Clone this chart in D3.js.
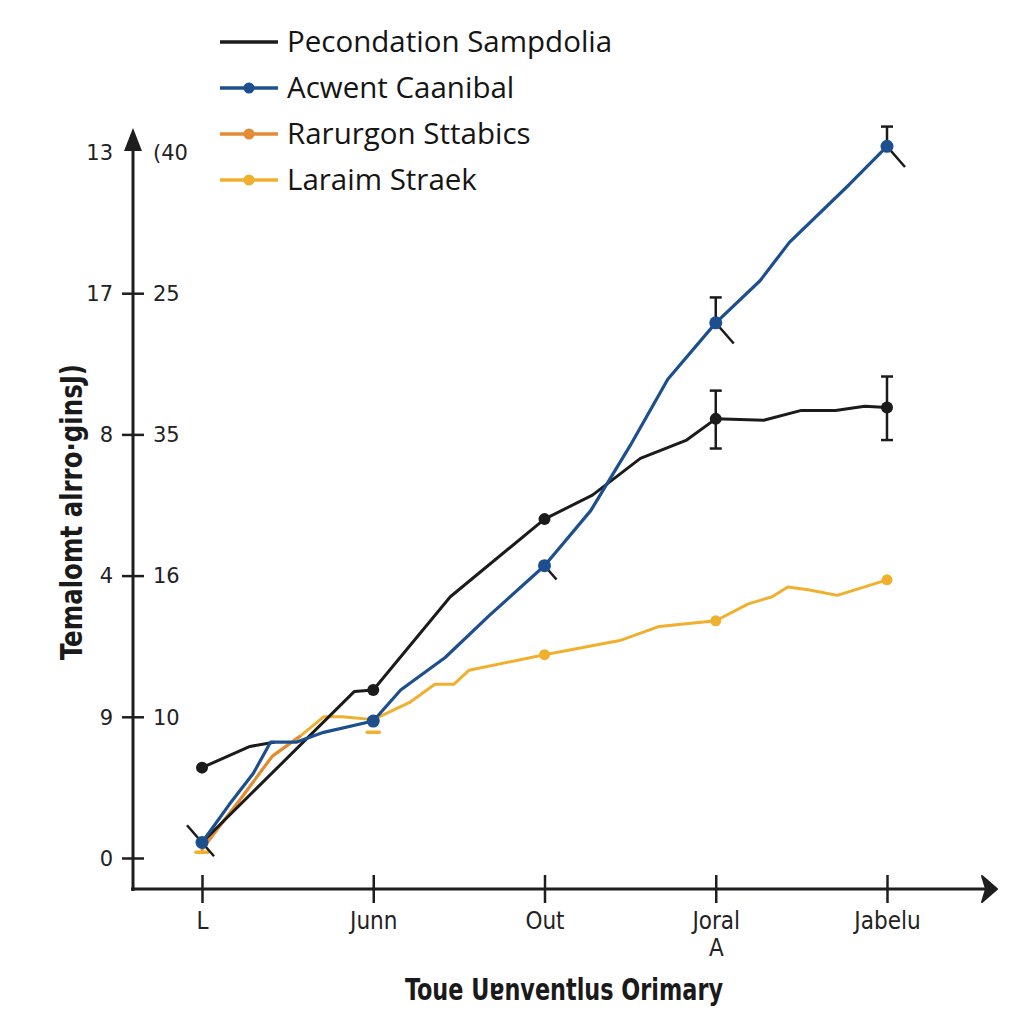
<!DOCTYPE html>
<html>
<head>
<meta charset="utf-8">
<script src="https://cdn.jsdelivr.net/npm/d3@7"></script>
<style>
html,body{margin:0;padding:0;background:#fff;}
svg{display:block;}
</style>
</head>
<body>
<svg id="chart" width="1024" height="1024"></svg>
<script>
// ---------- data ----------
const categories = ["L", "Junn", "Out", "Joral\nA", "Jabelu"];
const yTicksLeft = ["0", "9", "4", "8", "17", "13"];
const yTicksRight = ["", "10", "16", "35", "25", "(40"];
const seriesNames = ["Pecondation Sampdolia", "Acwent Caanibal", "Rarurgon Sttabics", "Laraim Straek"];
const seriesColors = ["#1b1b1b", "#1d4f8f", "#e38b35", "#f0b02e"];

// x = category index (fractional between categories), y = axis units
const blackMain = [[0,0.11],[0.89,1.18],[1,1.19],[1.45,1.85],[2,2.40],[2.28,2.57],[2.56,2.83],[2.83,2.96],[3,3.11],[3.28,3.10],[3.5,3.17],[3.7,3.17],[3.87,3.20],[4,3.19]];
const blackStart = [[0,0.64],[0.28,0.79],[0.42,0.82]];
const blackDots = [[0,0.64],[1,1.19],[2,2.40],[3,3.11],[4,3.19]];
const blackErr = [[3,2.90,3.31],[4,2.96,3.41]];

const blue = [[0,0.11],[0.16,0.38],[0.3,0.60],[0.4,0.82],[0.55,0.82],[0.71,0.89],[1,0.97],[1.16,1.19],[1.42,1.42],[1.68,1.72],[2,2.07],[2.27,2.46],[2.5,2.92],[2.72,3.39],[3,3.79],[3.26,4.09],[3.43,4.36],[3.78,4.77],[4,5.04]];
const blueDots = [[0,0.11],[1,0.97],[2,2.07],[3,3.79],[4,5.04]];
const blueErr = [[3,3.79,3.97],[4,5.04,5.18]];
const blueSlash = [0, 2, 3, 4];

const orange = [[0,0.06],[0.22,0.41],[0.41,0.72],[0.57,0.86]];

const yellow = [[0,0.07],[0.22,0.41],[0.41,0.72],[0.57,0.86],[0.71,1.00],[0.82,1.00],[1,0.98],[1.21,1.10],[1.36,1.23],[1.47,1.23],[1.56,1.33],[2,1.44],[2.44,1.54],[2.67,1.64],[3,1.68],[3.19,1.80],[3.33,1.85],[3.42,1.92],[3.54,1.90],[3.71,1.86],[4,1.97]];
const yellowDots = [[2,1.44],[3,1.68],[4,1.97]];
const yellowDash = [[0,0.04],[1,0.89]];

// ---------- layout ----------
const svg = d3.select("#chart");
const x = d3.scaleLinear().domain([0,4]).range([202,887]);
const y = d3.scaleLinear().domain([0,5]).range([858,152]);
const axisX0 = 133, axisY0 = 889;
const ink = "#1e1e1e";
const condensed = "DejaVu Sans Condensed, Liberation Sans Narrow, Roboto Condensed, sans-serif";

svg.append("rect").attr("width",1024).attr("height",1024).attr("fill","#fff");

// y axis
const yAxis = d3.axisLeft(y).tickValues(d3.range(6)).tickSize(0).tickFormat(() => "");
const gy = svg.append("g").attr("transform",`translate(${axisX0},0)`).call(yAxis);
gy.select(".domain").remove();
svg.append("line").attr("x1",axisX0).attr("x2",axisX0).attr("y1",axisY0+2).attr("y2",140)
  .attr("stroke",ink).attr("stroke-width",3);
svg.append("path").attr("d",`M${axisX0-9},${151} L${axisX0},${128} L${axisX0+9},${151} Z`).attr("fill",ink);
gy.selectAll(".tick").each(function(d){
  const g = d3.select(this);
  if (d < 5) g.append("line").attr("x1",-11).attr("x2",11).attr("stroke",ink).attr("stroke-width",2.5);
  g.append("text").attr("x",-20).attr("dy","0.35em").attr("text-anchor","end")
    .attr("font-family","DejaVu Sans, sans-serif").attr("font-size",21).attr("fill","#222").text(yTicksLeft[d]);
  g.append("text").attr("x",20).attr("dy","0.35em").attr("text-anchor","start")
    .attr("font-family","DejaVu Sans, sans-serif").attr("font-size",21).attr("fill","#222").text(yTicksRight[d]);
});

// x axis
const xAxis = d3.axisBottom(x).tickValues(d3.range(5)).tickSize(0).tickFormat(() => "");
const gx = svg.append("g").attr("transform",`translate(0,${axisY0})`).call(xAxis);
gx.select(".domain").remove();
svg.append("line").attr("x1",axisX0-2).attr("x2",990).attr("y1",axisY0).attr("y2",axisY0)
  .attr("stroke",ink).attr("stroke-width",3);
svg.append("path").attr("d",`M${982},${876} L${997},${axisY0} L${982},${902} L${986},${axisY0} Z`).attr("fill",ink)
  .attr("stroke",ink).attr("stroke-width",2).attr("stroke-linejoin","round");
gx.selectAll(".tick").each(function(d){
  const g = d3.select(this);
  g.append("line").attr("y1",-14).attr("y2",14).attr("stroke",ink).attr("stroke-width",2.5);
  const lines = categories[d].split("\n");
  lines.forEach((t,i) => {
    g.append("text").attr("y",40 + i*27).attr("text-anchor","middle")
      .attr("font-family",condensed).attr("font-size",24)
      .attr("fill","#222").text(t);
  });
});

// axis titles
svg.append("text").attr("transform","translate(82,512) rotate(-90)").attr("text-anchor","middle")
  .attr("font-family",condensed).attr("font-size",30).attr("font-weight","bold")
  .attr("textLength",296).attr("lengthAdjust","spacingAndGlyphs")
  .attr("fill","#1a1a1a").text("Temalomt alrro·ginsJ)");
svg.append("text").attr("x",564).attr("y",1000).attr("text-anchor","middle")
  .attr("font-family",condensed).attr("font-size",30).attr("font-weight","bold")
  .attr("textLength",318).attr("lengthAdjust","spacingAndGlyphs")
  .attr("fill","#1a1a1a").text("Toue Uɐnventlus Orimary");

// lines
const line = d3.line().x(d => x(d[0])).y(d => y(d[1])).curve(d3.curveLinear);
function drawLine(data, color, w){
  svg.append("path").datum(data).attr("d",line).attr("fill","none").attr("stroke",color)
    .attr("stroke-width",w).attr("stroke-linejoin","round").attr("stroke-linecap","round");
}
// yellow dashes under points
svg.selectAll(".ydash").data(yellowDash).enter().append("line")
  .attr("x1",d=>x(d[0])-6).attr("x2",d=>x(d[0])+6).attr("y1",d=>y(d[1])).attr("y2",d=>y(d[1]))
  .attr("stroke",seriesColors[3]).attr("stroke-width",3.5).attr("stroke-linecap","round");

drawLine(yellow, seriesColors[3], 3);
drawLine(orange, seriesColors[2], 3);
drawLine(blackMain, seriesColors[0], 3);
drawLine(blackStart, seriesColors[0], 3);
drawLine(blue, seriesColors[1], 3.2);

// error bars
function errBars(data, color){
  data.forEach(e => {
    const xx = x(e[0]);
    svg.append("line").attr("x1",xx).attr("x2",xx).attr("y1",y(e[1])).attr("y2",y(e[2]))
      .attr("stroke",color).attr("stroke-width",2.5);
    [e[1], e[2]].forEach(v => {
      svg.append("line").attr("x1",xx-6).attr("x2",xx+6).attr("y1",y(v)).attr("y2",y(v))
        .attr("stroke",color).attr("stroke-width",2.5);
    });
  });
}
errBars(blackErr, seriesColors[0]);
blueErr.forEach(e => {
  const xx = x(e[0]);
  svg.append("line").attr("x1",xx).attr("x2",xx).attr("y1",y(e[1])).attr("y2",y(e[2]))
    .attr("stroke",seriesColors[0]).attr("stroke-width",2.5);
  svg.append("line").attr("x1",xx-6).attr("x2",xx+6).attr("y1",y(e[2])).attr("y2",y(e[2]))
    .attr("stroke",seriesColors[0]).attr("stroke-width",2.5);
});
// slash whiskers on blue points
blueDots.filter(d => blueSlash.includes(d[0])).forEach(d => {
  const cx = x(d[0]), cy = y(d[1]);
  const back = d[0] === 0 ? 15 : 0;
  const fwd = d[0] === 2 ? 12 : (d[0] === 0 ? 12 : 18);
  svg.append("line").attr("x1",cx-back).attr("y1",cy-back*1.15).attr("x2",cx+fwd).attr("y2",cy+fwd*1.15)
    .attr("stroke",seriesColors[0]).attr("stroke-width",2.5);
});

// dots
function dots(data, color, r){
  svg.selectAll(null).data(data).enter().append("circle")
    .attr("cx",d=>x(d[0])).attr("cy",d=>y(d[1])).attr("r",r).attr("fill",color);
}
dots(yellowDots, seriesColors[3], 5.5);
dots(blackDots, seriesColors[0], 6);
dots(blueDots, seriesColors[1], 6.5);

// legend
const legend = svg.append("g");
seriesNames.forEach((name, i) => {
  const ly = 42 + i*46;
  legend.append("line").attr("x1",220).attr("x2",278).attr("y1",ly).attr("y2",ly)
    .attr("stroke",seriesColors[i]).attr("stroke-width",3.5);
  if (i > 0) legend.append("circle").attr("cx",249).attr("cy",ly).attr("r",5.5).attr("fill",seriesColors[i]);
  legend.append("text").attr("x",287).attr("y",ly).attr("dy","0.35em")
    .attr("font-family","Open Sans, Noto Sans, sans-serif").attr("font-size",29.5).attr("font-weight",500)
    .attr("fill","#151515").text(name);
});
</script>
</body>
</html>
